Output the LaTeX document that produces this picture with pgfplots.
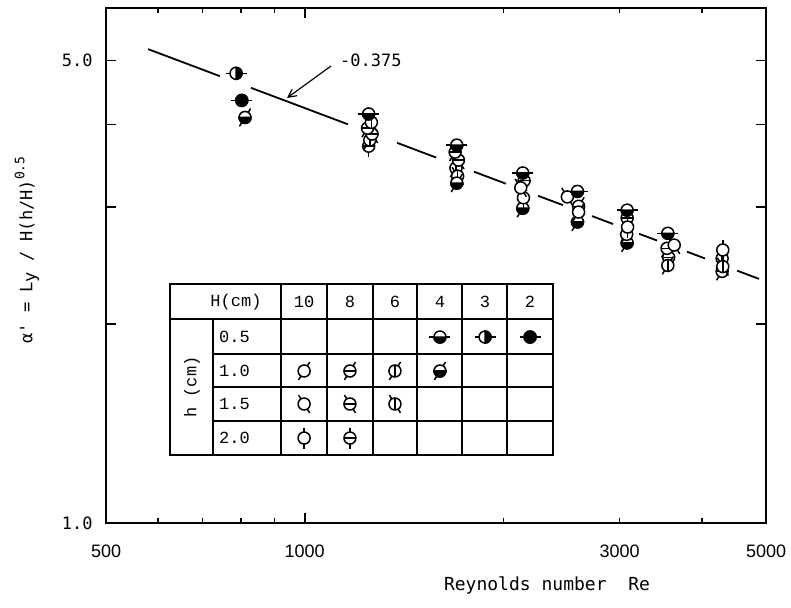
\documentclass[border=0pt]{standalone}
\usepackage{fontspec}
\setmainfont{Liberation Sans}
\setmonofont{DejaVu Sans Mono}
\newfontfamily\courier{Liberation Mono}
\usepackage{pgfplots}
\pgfplotsset{compat=1.18}
\usetikzlibrary{arrows.meta}

\newcommand\mkR{6bp}
\newcommand\mkT{10.5bp}
\newcommand\mkbase{\pgfsetlinewidth{1.5bp}\pgfsetstrokecolor{black}\pgfpathcircle{\pgfpointorigin}{\mkR}\pgfsetfillcolor{white}\pgfusepath{fill,stroke}}
\newcommand\mkticks[2]{\pgfpathmoveto{\pgfpointpolar{#1}{\mkR}}\pgfpathlineto{\pgfpointpolar{#1}{\mkT}}\pgfpathmoveto{\pgfpointpolar{#2}{\mkR}}\pgfpathlineto{\pgfpointpolar{#2}{\mkT}}\pgfusepath{stroke}}
\newcommand\mklower{\pgfpathmoveto{\pgfpoint{-\mkR}{0bp}}\pgfpatharc{180}{360}{\mkR}\pgfpathclose\pgfsetfillcolor{black}\pgfusepath{fill,stroke}}
\newcommand\mkright{\pgfpathmoveto{\pgfpoint{0bp}{-\mkR}}\pgfpatharc{-90}{90}{\mkR}\pgfpathclose\pgfsetfillcolor{black}\pgfusepath{fill,stroke}}
\newcommand\mkfull{\pgfpathcircle{\pgfpointorigin}{\mkR}\pgfsetfillcolor{black}\pgfusepath{fill,stroke}}
\newcommand\mkh{\pgfpathmoveto{\pgfpoint{-\mkR}{0bp}}\pgfpathlineto{\pgfpoint{\mkR}{0bp}}\pgfusepath{stroke}}
\newcommand\mkv{\pgfpathmoveto{\pgfpoint{0bp}{-\mkR}}\pgfpathlineto{\pgfpoint{0bp}{\mkR}}\pgfusepath{stroke}}

\pgfdeclareplotmark{mA}{\mkbase\mklower\mkticks{0}{180}}
\pgfdeclareplotmark{mB}{\mkbase\mkright\mkticks{0}{180}}
\pgfdeclareplotmark{mC}{\mkbase\mkfull\mkticks{0}{180}}
\pgfdeclareplotmark{mD}{\mkbase\mkticks{58}{238}}
\pgfdeclareplotmark{mE}{\mkbase\mkh\mkticks{58}{238}}
\pgfdeclareplotmark{mF}{\mkbase\mkv\mkticks{58}{238}}
\pgfdeclareplotmark{mG}{\mkbase\mklower\mkticks{58}{238}}
\pgfdeclareplotmark{mI}{\mkbase\mkticks{122}{302}}
\pgfdeclareplotmark{mJ}{\mkbase\mkh\mkticks{122}{302}}
\pgfdeclareplotmark{mK}{\mkbase\mkv\mkticks{122}{302}}
\pgfdeclareplotmark{mL}{\mkbase\mkticks{90}{270}}
\pgfdeclareplotmark{mM}{\mkbase\mkh\mkticks{90}{270}}

\begin{document}
\begin{tikzpicture}
\begin{axis}[
  xmode=log, ymode=log,
  scale only axis, width=660bp, height=515bp,
  xmin=500, xmax=5000, ymin=1, ymax=6,
  axis line style={line width=2.4bp},
  tick style={line width=1.6bp, black},
  major tick length=10bp, minor tick length=5.5bp,
  xtick={1000}, xticklabels={1000},
  minor xtick={600,700,800,900,2000,3000,4000},
  extra x ticks={500,3000,5000}, extra x tick labels={500,3000,5000},
  extra x tick style={major tick length=5.5bp},
  ytick={1,2,3,4,5}, yticklabels={1.0,,,,5.0},
  xticklabel style={font=\fontsize{18bp}{18bp}\selectfont, yshift=-18bp},
  yticklabel style={font=\ttfamily\fontsize{17bp}{17bp}\selectfont, xshift=-10bp},
  clip=false,
]
% fitted line, slope -0.375 (drawn in pieces as in the original)
\addplot[black, line width=1.8bp, mark=none] coordinates {(579,5.200) (744,4.733)};
\addplot[black, line width=1.8bp, mark=none] coordinates {(829,4.545) (1163,4.003)};
\addplot[black, line width=1.8bp, mark=none] coordinates {(1380,3.754) (1581,3.567)};
\addplot[black, line width=1.8bp, mark=none] coordinates {(1805,3.395) (2018,3.256)};
\addplot[black, line width=1.8bp, mark=none] coordinates {(2257,3.122) (2462,3.022)};
\addplot[black, line width=1.8bp, mark=none] coordinates {(2725,2.909) (2932,2.830)};
\addplot[black, line width=1.8bp, mark=none] coordinates {(3211,2.735) (3419,2.672)};
\addplot[black, line width=1.8bp, mark=none] coordinates {(3796,2.570) (4041,2.510)};
\addplot[black, line width=1.8bp, mark=none] coordinates {(4520,2.406) (4880,2.338)};
% data
\addplot[only marks, mark=mB] coordinates {(787,4.78) (1876,1.910)};
\addplot[only marks, mark=mC] coordinates {(803,4.35) (2195,1.910)};
\addplot[only marks, mark=mM] coordinates {(1250,3.71) (2150,3.29) (3560,2.52) (1171,1.344)};
\addplot[only marks, mark=mF] coordinates {(1255,3.79) (1695,3.438) (3550,2.45) (4290,2.51) (1370,1.697)};
\addplot[only marks, mark=mJ] coordinates {(1265,3.87) (1710,3.534) (3080,2.89) (1171,1.513)};
\addplot[only marks, mark=mE] coordinates {(1245,3.95) (1690,3.634) (2600,3.01) (3540,2.60) (4290,2.40) (1171,1.697)};
\addplot[only marks, mark=mK] coordinates {(1262,4.03) (1705,3.343) (4300,2.44) (1370,1.513)};
\addplot[only marks, mark=mG] coordinates {(812,4.10) (1700,3.263) (2140,2.99) (2590,2.85) (3080,2.65) (1603,1.697)};
\addplot[only marks, mark=mD] coordinates {(2600,2.95) (3075,2.73) (998,1.697)};
\addplot[only marks, mark=mL] coordinates {(2145,3.10) (3085,2.80) (4300,2.585) (998,1.344)};
\addplot[only marks, mark=mI] coordinates {(2125,3.21) (2500,3.11) (3630,2.63) (998,1.513)};
\addplot[only marks, mark=mA] coordinates {(1250,4.15) (1700,3.724) (2140,3.38) (2590,3.17) (3080,2.97) (3550,2.74) (1603,1.910)};
\end{axis}
\begin{scope}[shift={(current axis.north west)}, shift={(-106bp,8bp)}, x=1bp, y=-1bp]
  % table
  \draw[line width=1.9bp] (170,284) rectangle (553,455);
  \draw[line width=1.4bp] (170,319) -- (553,319);
  \foreach \yy in {354,387,421} \draw[line width=1.4bp] (213,\yy) -- (553,\yy);
  \draw[line width=1.4bp] (213,319) -- (213,455);
  \foreach \xx in {281,327,373,417,462,507} \draw[line width=1.4bp] (\xx,284) -- (\xx,455);
  \begin{scope}[every node/.style={font=\courier\fontsize{17bp}{17bp}\selectfont, inner sep=0pt}]
  \node at (236,302) {H(cm)};
  \node at (304,302) {10};
  \node at (350,302) {8};
  \node at (395,302) {6};
  \node at (440,302) {4};
  \node at (485,302) {3};
  \node at (530,302) {2};
  \node[anchor=west] at (219,337) {0.5};
  \node[anchor=west] at (219,371) {1.0};
  \node[anchor=west] at (219,404) {1.5};
  \node[anchor=west] at (219,438) {2.0};
  \node[rotate=90] at (192,387) {h (cm)};
  \end{scope}
  % annotation
  \node[anchor=west, inner sep=0pt, font=\ttfamily\fontsize{17bp}{17bp}\selectfont] at (340,60) {-0.375};
  \draw[line width=1.2bp, -{Straight Barb[length=8bp,width=8bp]}] (331,66) -- (287,98);
  % axis labels
  \node[font=\ttfamily\fontsize{18bp}{18bp}\selectfont, inner sep=0pt] at (547,585) {Reynolds number\ \ Re};
  \node[rotate=90, inner sep=0pt, font=\ttfamily\fontsize{17bp}{17bp}\selectfont] at (27,250)
    {α' = L\raisebox{-0.35ex}{y} / H(h/H)\raisebox{0.85ex}{\fontsize{13bp}{13bp}\selectfont 0.5}};
  \pgfresetboundingbox
  \path[use as bounding box] (0,0) rectangle (791,608);
\end{scope}
\end{tikzpicture}
\end{document}
